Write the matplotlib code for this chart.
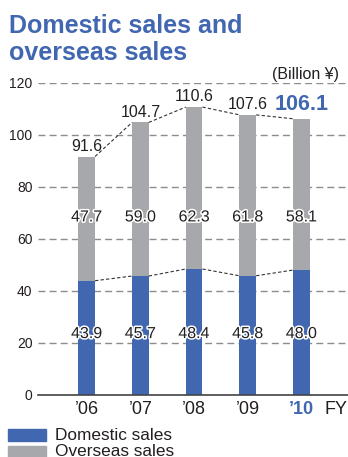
import matplotlib.pyplot as plt
import matplotlib.patheffects as pe
from matplotlib.patches import Rectangle

plt.rcParams['font.family'] = ['Liberation Sans', 'DejaVu Sans']

years = ["\u201906", "\u201907", "\u201908", "\u201909", "\u201910"]
domestic = [43.9, 45.7, 48.4, 45.8, 48.0]
overseas = [47.7, 59.0, 62.3, 61.8, 58.1]
totals = [91.6, 104.7, 110.6, 107.6, 106.1]

BLUE = '#4167b1'
GRAY = '#a7a8ab'
TXT = '#231f20'

fig = plt.figure(figsize=(3.48, 4.57), dpi=100)
ax = fig.add_axes([38 / 348, 62 / 457, 310 / 348, 312.4 / 457])

x = list(range(len(years)))
w = 0.31
ax.bar(x, domestic, width=w, color=BLUE, zorder=3)
ax.bar(x, overseas, width=w, bottom=domestic, color=GRAY, zorder=3)

# dashed links between the tops of neighbouring bars
for i in range(len(x) - 1):
    for vals in (totals, domestic):
        ax.plot([x[i] + w / 2, x[i + 1] - w / 2], [vals[i], vals[i + 1]],
                ls=(0, (3, 2)), lw=0.8, color='#333333', zorder=4)

ax.set_xlim(-0.907, 4.866)
ax.set_ylim(0, 120)
ax.set_yticks(range(0, 121, 20))
ax.yaxis.grid(True, ls=(0, (5, 3)), lw=1, color='#8c8c8c', zorder=0)
ax.set_axisbelow(True)
for s in ['top', 'right', 'left']:
    ax.spines[s].set_visible(False)
ax.spines['bottom'].set_color('#444444')
ax.spines['bottom'].set_linewidth(1.2)
ax.spines['bottom'].set_zorder(5)
ax.tick_params(axis='y', length=0, pad=4, labelsize=10, labelcolor=TXT)
ax.tick_params(axis='x', length=0, pad=4, labelsize=13, labelcolor=TXT)
ax.set_xticks(x)
ax.set_xticklabels(years)
lbl = ax.get_xticklabels()[-1]
lbl.set_color(BLUE)
lbl.set_fontweight('bold')
ax.annotate('FY', xy=(4.65, 0), xycoords=('data', 'axes fraction'),
            xytext=(0, -4), textcoords='offset points',
            ha='center', va='top', fontsize=13, color=TXT)

stroke = [pe.withStroke(linewidth=2.2, foreground='white')]
for i in x:
    ax.text(i, 23.6, f'{domestic[i]:.1f}', ha='center', va='center',
            fontsize=11.5, color=TXT, path_effects=stroke, zorder=6)
    ax.text(i, 68.4, f'{overseas[i]:.1f}', ha='center', va='center',
            fontsize=11.5, color=TXT, path_effects=stroke, zorder=6)
    if i == len(x) - 1:
        ax.text(i, totals[i] + 1.5, f'{totals[i]:.1f}', ha='center', va='bottom',
                fontsize=15.5, fontweight='bold', color=BLUE, zorder=6)
    else:
        ax.text(i, totals[i] + 1.0, f'{totals[i]:.1f}', ha='center', va='bottom',
                fontsize=11.5, color=TXT, zorder=6)

ax.text(338 / 348, 120.3, '(Billion \u00a5)', transform=ax.get_yaxis_transform(),
        ha='right', va='bottom', fontsize=11.5, color=TXT)

fig.text(9 / 348, 1 - 33 / 457, 'Domestic sales and', ha='left', va='baseline',
         fontsize=18, fontweight='bold', color=BLUE)
fig.text(9 / 348, 1 - 60 / 457, 'overseas sales', ha='left', va='baseline',
         fontsize=18, fontweight='bold', color=BLUE)

# legend
fig.patches.append(Rectangle((8 / 348, 1 - 441 / 457), 38 / 348, 12 / 457,
                             transform=fig.transFigure, color=BLUE))
fig.patches.append(Rectangle((8 / 348, 1 - 458 / 457), 38 / 348, 12 / 457,
                             transform=fig.transFigure, color=GRAY))
fig.text(55 / 348, 1 - 439.5 / 457, 'Domestic sales', ha='left', va='baseline',
         fontsize=12.4, color=TXT)
fig.text(55 / 348, 1 - 455.5 / 457, 'Overseas sales', ha='left', va='baseline',
         fontsize=12.4, color=TXT)

fig.savefig('out.png', dpi=100)
